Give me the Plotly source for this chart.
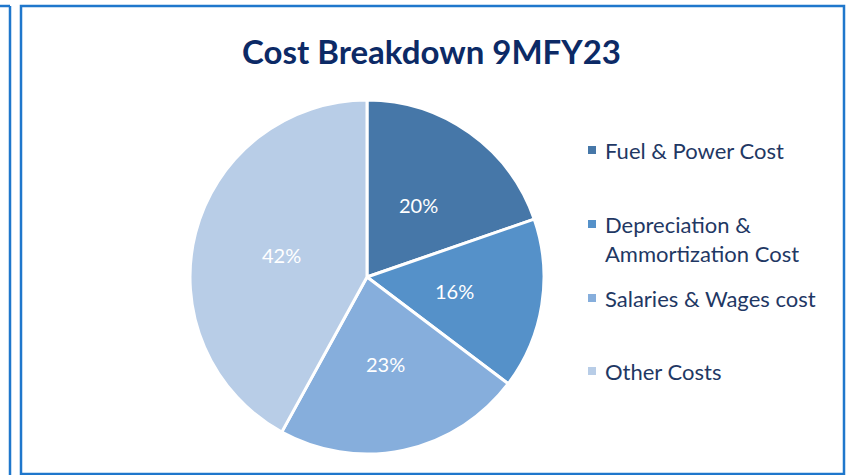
import math
import plotly.graph_objects as go

categories = ["Fuel & Power Cost", "Depreciation & Ammortization Cost",
              "Salaries & Wages cost", "Other Costs"]
legend_labels = ["Fuel & Power Cost", "Depreciation &<br>Ammortization Cost",
                 "Salaries & Wages cost", "Other Costs"]
values = [19.7, 15.6, 22.7, 42.0]
colors = ["#4677a8", "#5591c9", "#86aedc", "#b8cde7"]
title_text = "Cost Breakdown 9MFY23"

W, H = 850, 475
FONT = "Lato"
NAVY = "#1f3864"
TITLE_NAVY = "#0c2a66"
BORDER = "#1f77cc"

def px(x):
    return x / W

def py(y):
    return 1 - y / H

# pie geometry (reference pixels)
PX0, PX1, PY0, PY1 = 190, 544, 100, 454
CX, CY = (PX0 + PX1) / 2, (PY0 + PY1) / 2
R = min(PX1 - PX0, PY1 - PY0) / 2

fig = go.Figure()
fig.add_trace(go.Pie(
    labels=categories,
    values=values,
    sort=False,
    direction="clockwise",
    rotation=0,
    marker=dict(colors=colors, line=dict(color="white", width=3)),
    textinfo="none",
    domain=dict(x=[px(PX0), px(PX1)], y=[py(PY1), py(PY0)]),
    showlegend=False,
    hoverinfo="label+percent",
))

shapes = [
    dict(type="rect", xref="paper", yref="paper",
         x0=px(21), x1=px(844), y0=py(474), y1=py(6),
         line=dict(color=BORDER, width=2.5)),
    dict(type="line", xref="paper", yref="paper",
         x0=px(10), x1=px(10), y0=py(480), y1=py(6),
         line=dict(color=BORDER, width=2.5)),
    dict(type="line", xref="paper", yref="paper",
         x0=px(0), x1=px(10), y0=py(6), y1=py(6),
         line=dict(color=BORDER, width=2.5)),
]

annotations = [
    dict(text="<b>" + title_text + "</b>", x=px(432), y=py(51), xref="paper", yref="paper",
         xanchor="center", yanchor="middle", showarrow=False,
         font=dict(family=FONT, size=33, color=TITLE_NAVY)),
]

# percentage labels placed at half radius on each slice's bisector
total = sum(values)
cum = 0.0
for v in values:
    mid = (cum + v / 2) / total * 2 * math.pi
    cum += v
    tx = CX + 0.5 * R * math.sin(mid)
    ty = CY - 0.5 * R * math.cos(mid)
    annotations.append(dict(text=f"{round(v / total * 100)}%", x=px(tx), y=py(ty),
                            xref="paper", yref="paper", xanchor="center", yanchor="middle",
                            showarrow=False, font=dict(family=FONT, size=20, color="white")))

legend_y = [150, 238.5, 298, 371]
for lab, col, yy in zip(legend_labels, colors, legend_y):
    sq_y = yy if "<br>" not in lab else 224
    shapes.append(dict(type="rect", xref="paper", yref="paper",
                       x0=px(588), x1=px(596), y0=py(sq_y + 4), y1=py(sq_y - 4),
                       fillcolor=col, line=dict(width=0)))
    annotations.append(dict(text=lab, x=px(603), y=py(yy), xref="paper", yref="paper",
                            xanchor="left", yanchor="middle", align="left", showarrow=False,
                            font=dict(family=FONT, size=22, color=NAVY)))

fig.update_layout(
    width=W, height=H,
    margin=dict(l=0, r=0, t=0, b=0),
    paper_bgcolor="white",
    plot_bgcolor="white",
    shapes=shapes,
    annotations=annotations,
)

fig.write_html(
    "out.html",
    config={"displayModeBar": False},
    post_script="document.body.style.margin='0';document.body.style.overflow='hidden';",
)
